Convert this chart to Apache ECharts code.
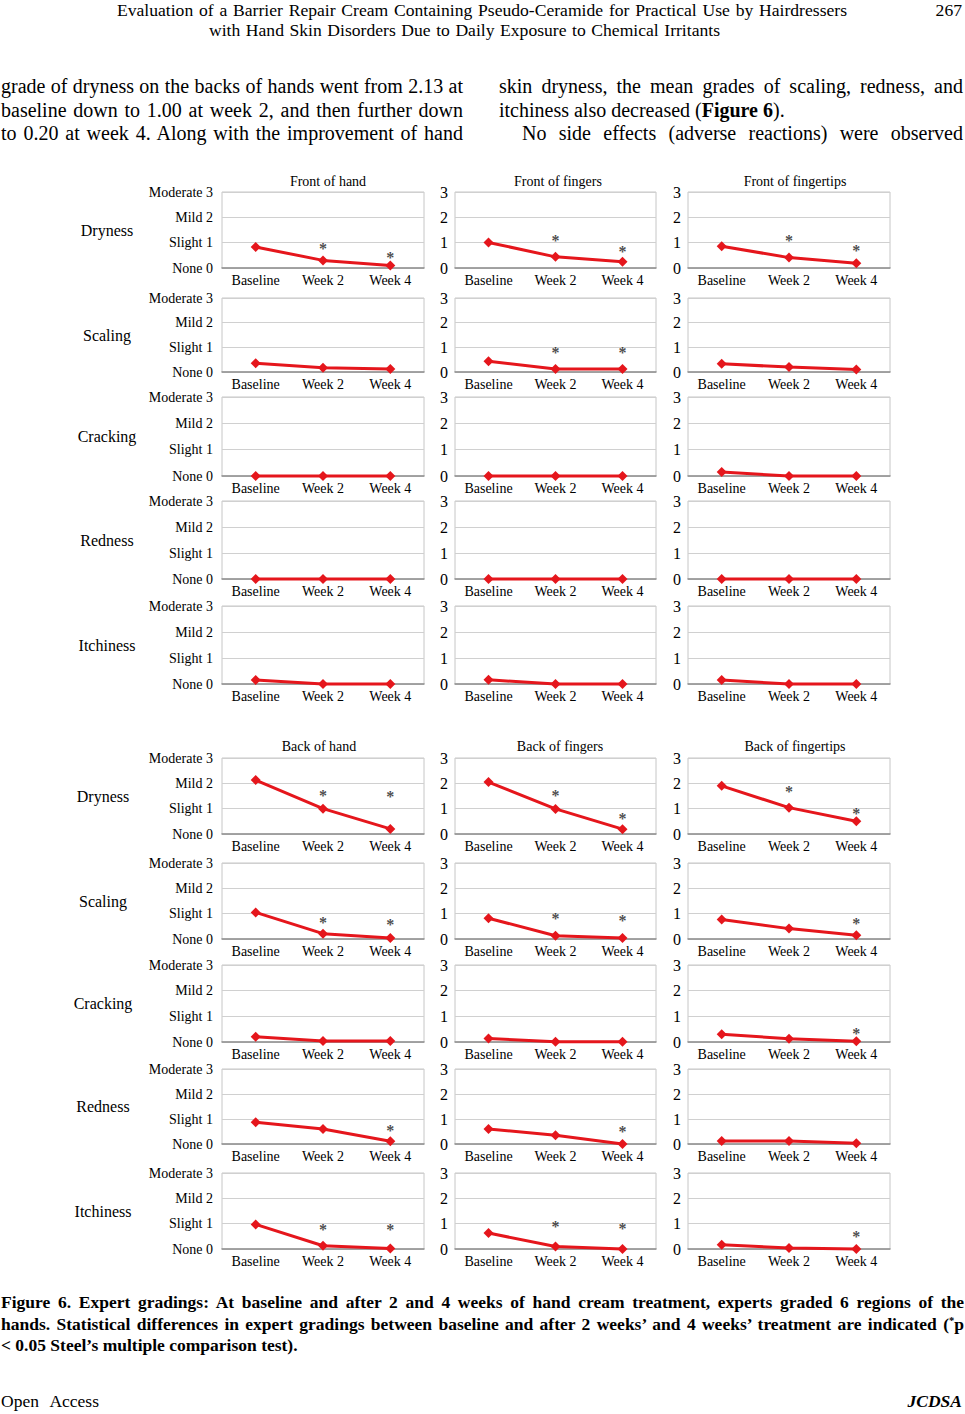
<!DOCTYPE html>
<html><head><meta charset="utf-8">
<script src="https://cdn.jsdelivr.net/npm/echarts@6/dist/echarts.min.js"></script>
<style>
html,body{margin:0;padding:0;background:#fff;}
#page{position:relative;width:965px;height:1414px;overflow:hidden;font-family:'Liberation Serif','Times New Roman',serif;color:#000;}
#chart{position:absolute;left:0;top:0;width:965px;height:1414px;}
.t{position:absolute;white-space:nowrap;line-height:1.15;}
.t span{white-space:nowrap;}
sup{font-size:60%;line-height:0;vertical-align:0.6em;}
</style></head>
<body><div id="page">
<div id="chart"></div>

<div class="t fit" data-w="730" style="left:117px;top:0px;font-size:17.6px"><span>Evaluation of a Barrier Repair Cream Containing Pseudo-Ceramide for Practical Use by Hairdressers</span></div>
<div class="t fit" data-w="511" style="left:209px;top:20px;font-size:17.6px"><span>with Hand Skin Disorders Due to Daily Exposure to Chemical Irritants</span></div>
<div class="t" style="right:3px;top:0px;font-size:17.6px"><span>267</span></div>

<div class="t fit" data-w="462" style="left:1px;top:75px;font-size:20px"><span>grade of dryness on the backs of hands went from 2.13 at</span></div>
<div class="t fit" data-w="462" style="left:1px;top:99px;font-size:20px"><span>baseline down to 1.00 at week 2, and then further down</span></div>
<div class="t fit" data-w="462" style="left:1px;top:122px;font-size:20px"><span>to 0.20 at week 4. Along with the improvement of hand</span></div>
<div class="t fit" data-w="464" style="left:499px;top:75px;font-size:20px"><span>skin dryness, the mean grades of scaling, redness, and</span></div>
<div class="t" style="left:499px;top:99px;font-size:20px"><span>itchiness also decreased (<b>Figure 6</b>).</span></div>
<div class="t fit" data-w="441" style="left:522px;top:122px;font-size:20px"><span>No side effects (adverse reactions) were observed</span></div>

<div class="t fit" data-w="963" style="left:1px;top:1292px;font-size:17.5px;font-weight:bold"><span>Figure 6. Expert gradings: At baseline and after 2 and 4 weeks of hand cream treatment, experts graded 6 regions of the</span></div>
<div class="t fit" data-w="963" style="left:1px;top:1314px;font-size:17.5px;font-weight:bold"><span>hands. Statistical differences in expert gradings between baseline and after 2 weeks’ and 4 weeks’ treatment are indicated (<sup>*</sup>p</span></div>
<div class="t" style="left:1px;top:1335px;font-size:17.5px;font-weight:bold"><span>&lt; 0.05 Steel’s multiple comparison test).</span></div>

<div class="t fit" data-w="98" style="left:1px;top:1391px;font-size:17.5px"><span>Open Access</span></div>
<div class="t" style="right:3px;top:1391px;font-size:17.5px;font-weight:bold;font-style:italic"><span>JCDSA</span></div>
</div>

<script>
// ---- data ----
const categories = ['Baseline', 'Week 2', 'Week 4'];
const symptoms = ['Dryness', 'Scaling', 'Cracking', 'Redness', 'Itchiness'];
const gradeLabels = ['None 0', 'Slight 1', 'Mild 2', 'Moderate 3'];
const regionTitles = ['Front of hand', 'Front of fingers', 'Front of fingertips',
                      'Back of hand', 'Back of fingers', 'Back of fingertips'];

// mean grades per symptom (rows: dryness, scaling, cracking, redness, itchiness)
const frontHand       = [[0.83, 0.30, 0.10], [0.35, 0.17, 0.12], [0, 0, 0], [0, 0, 0], [0.15, 0, 0]];
const frontFingers    = [[1.01, 0.44, 0.25], [0.44, 0.12, 0.12], [0, 0, 0], [0, 0, 0], [0.16, 0, 0]];
const frontFingertips = [[0.86, 0.41, 0.19], [0.33, 0.20, 0.10], [0.15, 0, 0], [0, 0, 0], [0.15, 0, 0]];
const backHand        = [[2.13, 1.00, 0.20], [1.05, 0.21, 0.04], [0.20, 0.04, 0.04], [0.87, 0.60, 0.11], [0.97, 0.13, 0.02]];
const backFingers     = [[2.05, 0.99, 0.19], [0.82, 0.13, 0.04], [0.14, 0.01, 0.01], [0.60, 0.35, 0], [0.63, 0.10, 0]];
const backFingertips  = [[1.90, 1.04, 0.50], [0.77, 0.41, 0.15], [0.30, 0.13, 0.03], [0.12, 0.12, 0.03], [0.17, 0.04, 0]];

// heights of significance asterisks (null = none)
const frontHandStars       = [[null, 0.92, 0.57], [null, null, null], [null, null, null], [null, null, null], [null, null, null]];
const frontFingersStars    = [[null, 1.23, 0.82], [null, 0.95, 0.95], [null, null, null], [null, null, null], [null, null, null]];
const frontFingertipsStars = [[null, 1.23, 0.84], [null, null, null], [null, null, null], [null, null, null], [null, null, null]];
const backHandStars        = [[null, 1.67, 1.62], [null, 0.79, 0.72], [null, null, null], [null, null, 0.71], [null, 0.93, 0.93]];
const backFingersStars     = [[null, 1.66, 0.76], [null, 0.95, 0.89], [null, null, null], [null, null, 0.68], [null, 1.03, 0.96]];
const backFingertipsStars  = [[null, 1.85, 0.95], [null, null, 0.77], [null, null, 0.49], [null, null, null], [null, null, 0.66]];

// ---- layout ----
const regionData = [frontHand, frontFingers, frontFingertips, backHand, backFingers, backFingertips];
const regionStars = [frontHandStars, frontFingersStars, frontFingertipsStars, backHandStars, backFingersStars, backFingertipsStars];
const colLeft = [222, 455, 688];
const colWidth = [202, 201, 202];
const blockRowTop = [[192, 298, 397, 501, 606], [758, 863, 965, 1069, 1173]];
const blockRowH = [[76, 74, 79, 78, 78], [76, 76, 77, 75, 76]];
const blockTitleY = [181, 746];
const titleX = [[328, 558, 795], [319, 560, 795]];
const rowLabelX = [107, 103];

const FONT = "'Liberation Serif', 'Times New Roman', serif";
const RED = '#e5161c';

const grids = [], xAxes = [], yAxes = [], series = [], graphics = [];
let gi = 0;
for (let b = 0; b < 2; b++) {
  for (let c = 0; c < 3; c++) {
    const reg = b * 3 + c;
    graphics.push({type: 'text', x: titleX[b][c], y: blockTitleY[b],
      style: {text: regionTitles[reg], font: '14px ' + FONT, fill: '#000',
              textAlign: 'center', textVerticalAlign: 'middle', align: 'center', verticalAlign: 'middle'}});
  }
  for (let r = 0; r < 5; r++) {
    const top = blockRowTop[b][r], h = blockRowH[b][r];
    graphics.push({type: 'text', x: rowLabelX[b], y: top + h / 2,
      style: {text: symptoms[r], font: '16px ' + FONT, fill: '#000',
              textAlign: 'center', textVerticalAlign: 'middle', align: 'center', verticalAlign: 'middle'}});
    for (let c = 0; c < 3; c++) {
      const reg = b * 3 + c;
      grids.push({left: colLeft[c], top: top, width: colWidth[c], height: h,
                  show: true, borderColor: '#c6c6c6', borderWidth: 1, backgroundColor: '#fff'});
      xAxes.push({type: 'category', gridIndex: gi, data: categories, boundaryGap: true,
        axisTick: {show: false},
        axisLine: {lineStyle: {color: '#8e8e8e', width: 1.5}},
        axisLabel: {fontFamily: FONT, fontSize: 14, color: '#000', margin: 5}});
      yAxes.push({type: 'value', gridIndex: gi, min: 0, max: 3, interval: 1,
        axisLine: {show: false}, axisTick: {show: false},
        splitLine: {lineStyle: {color: '#d0d0d0', width: 1}},
        axisLabel: c === 0
          ? {formatter: v => gradeLabels[v], fontFamily: FONT, fontSize: 14, color: '#000', margin: 9}
          : {fontFamily: FONT, fontSize: 16, color: '#000', margin: 7}});
      series.push({type: 'line', xAxisIndex: gi, yAxisIndex: gi, data: regionData[reg][r],
        symbol: 'diamond', symbolSize: 10, clip: false, silent: true, z: 3,
        lineStyle: {color: RED, width: 3}, itemStyle: {color: RED}});
      const stars = [];
      regionStars[reg][r].forEach((v, k) => { if (v !== null) stars.push([k, v]); });
      if (stars.length) {
        series.push({type: 'scatter', xAxisIndex: gi, yAxisIndex: gi, data: stars,
          symbol: 'circle', symbolSize: 2, itemStyle: {color: 'rgba(0,0,0,0)'}, silent: true, z: 4,
          label: {show: true, position: 'inside', formatter: '*', fontFamily: FONT,
                  fontSize: 16, fontWeight: 'bold', color: '#1a1a1a',
                  textBorderWidth: 0, textBorderColor: 'rgba(0,0,0,0)', offset: [0, 4]}});
      }
      gi++;
    }
  }
}

const chart = echarts.init(document.getElementById('chart'), null, {renderer: 'svg'});
chart.setOption({
  animation: false,
  backgroundColor: 'transparent',
  grid: grids, xAxis: xAxes, yAxis: yAxes, series: series, graphic: graphics
});

function fitLines() {
  document.querySelectorAll('.fit').forEach(el => {
    const span = el.firstElementChild;
    el.style.wordSpacing = '0px';
    const nat = span.getBoundingClientRect().width;
    const spaces = (span.textContent.match(/ /g) || []).length;
    const w = parseFloat(el.dataset.w);
    if (spaces) el.style.wordSpacing = ((w - nat) / spaces) + 'px';
  });
}
fitLines();
if (document.fonts && document.fonts.ready) document.fonts.ready.then(fitLines);
</script>
</body></html>
